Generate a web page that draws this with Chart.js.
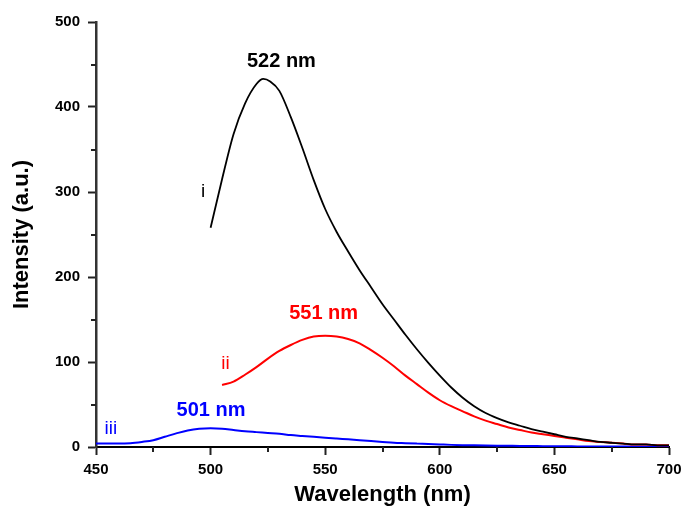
<!DOCTYPE html>
<html>
<head>
<meta charset="utf-8">
<script src="https://cdn.jsdelivr.net/npm/chart.js@4"></script>
<style>
  html, body { margin: 0; padding: 0; background: #fff; }
  #wrap { width: 684px; height: 508px; }
</style>
</head>
<body>
<div id="wrap"><canvas id="chart" width="684" height="508"></canvas></div>
<script>
// Daten
const wavelengthsI = [500, 505, 510, 515, 520, 523, 526, 530, 535, 540, 545, 550, 555, 560, 565, 570, 575, 580, 585, 590, 595, 600, 605, 610, 615, 620, 625, 630, 635, 640, 645, 650, 655, 660, 665, 670, 675, 680, 685, 690, 695, 700];
const intensityI = [258, 315, 368, 404, 427, 433, 430, 419, 388, 352, 314, 280, 253, 230, 208, 188, 168, 150, 132, 115, 99, 84, 70, 58, 48, 40, 34, 29, 25, 21, 18, 15, 12, 10, 8, 6, 5, 4, 3, 3, 2, 2];

const wavelengthsII = [505, 510, 515, 520, 525, 530, 535, 540, 545, 550, 555, 560, 565, 570, 575, 580, 585, 590, 595, 600, 605, 610, 615, 620, 625, 630, 635, 640, 645, 650, 655, 660, 665, 670, 675, 680, 685, 690, 695, 700];
const intensityII = [73, 77, 85, 94, 104, 113, 120, 126, 130, 131, 130, 127, 122, 114, 105, 95, 84, 74, 64, 55, 48, 42, 36, 31, 27, 23, 20, 17, 15, 13, 11, 9, 7, 6, 5, 4, 3, 3, 2, 2];

const wavelengthsIII = [450, 455, 460, 465, 470, 475, 480, 485, 490, 495, 500, 505, 510, 515, 520, 525, 530, 535, 540, 545, 550, 555, 560, 565, 570, 575, 580, 585, 590, 595, 600, 605, 610, 615, 620, 625, 630, 635, 640, 645, 650, 655, 660, 665, 670, 675, 680, 685, 690, 695, 700];
const intensityIII = [4, 4, 4, 4.5, 6, 8, 12, 16, 19.5, 21.5, 22, 21.5, 20, 18.5, 17.5, 16.5, 15.5, 14, 13, 12, 11, 10, 9, 8, 7, 6, 5, 4.5, 4, 3.5, 3, 2.5, 2.2, 2, 1.8, 1.6, 1.4, 1.2, 1.1, 1, 0.9, 0.8, 0.7, 0.6, 0.6, 0.5, 0.5, 0.5, 0.5, 0.5, 0.5];

const xMajorTicks = [450, 500, 550, 600, 650, 700];
const xMinorTicks = [475, 525, 575, 625, 675];
const yMajorTicks = [0, 100, 200, 300, 400, 500];
const yMinorTicks = [50, 150, 250, 350, 450];

// Beschriftungen im Diagramm
const peakLabels = [
  { text: '522 nm', x: 530.9, y: 447, color: '#000', font: 'bold 20px "Liberation Sans", Arial, sans-serif' },
  { text: '551 nm', x: 549.3, y: 150.6, color: '#ff0000', font: 'bold 20px "Liberation Sans", Arial, sans-serif' },
  { text: '501 nm', x: 500.2, y: 36.5, color: '#0000ff', font: 'bold 20px "Liberation Sans", Arial, sans-serif' },
  { text: 'i', x: 496.7, y: 294, color: '#000', font: '19px "Liberation Sans", Arial, sans-serif' },
  { text: 'ii', x: 506.5, y: 91.8, color: '#ff0000', font: '19px "Liberation Sans", Arial, sans-serif' },
  { text: 'iii', x: 456.5, y: 15.3, color: '#0000ff', font: '19px "Liberation Sans", Arial, sans-serif' }
];

function toPoints(xs, ys) {
  return xs.map((x, i) => ({ x: x, y: ys[i] }));
}

// Nebenstriche und Text zeichnen
const extrasPlugin = {
  id: 'extras',
  afterDraw(chart) {
    const ctx = chart.ctx;
    const xs = chart.scales.x;
    const ys = chart.scales.y;
    const area = chart.chartArea;
    ctx.save();
    ctx.strokeStyle = '#222';
    ctx.lineWidth = 2;
    xMinorTicks.forEach(v => {
      const px = Math.round(xs.getPixelForValue(v));
      ctx.beginPath();
      ctx.moveTo(px, area.bottom);
      ctx.lineTo(px, area.bottom + 5);
      ctx.stroke();
    });
    yMinorTicks.forEach(v => {
      const py = Math.round(ys.getPixelForValue(v));
      ctx.beginPath();
      ctx.moveTo(area.left, py);
      ctx.lineTo(area.left - 5, py);
      ctx.stroke();
    });
    ctx.textAlign = 'center';
    ctx.textBaseline = 'alphabetic';
    peakLabels.forEach(l => {
      ctx.font = l.font;
      ctx.fillStyle = l.color;
      ctx.fillText(l.text, xs.getPixelForValue(l.x), ys.getPixelForValue(l.y));
    });
    ctx.restore();
  }
};

const tickFont = { family: '"Liberation Sans", Arial, sans-serif', size: 15, weight: 'bold' };
const titleFont = { family: '"Liberation Sans", Arial, sans-serif', size: 22, weight: 'bold' };

new Chart(document.getElementById('chart'), {
  type: 'line',
  data: {
    datasets: [
      { label: 'i', data: toPoints(wavelengthsI, intensityI), borderColor: '#000', borderWidth: 1.8, pointRadius: 0, cubicInterpolationMode: 'monotone', fill: false },
      { label: 'ii', data: toPoints(wavelengthsII, intensityII), borderColor: '#ff0000', borderWidth: 2, pointRadius: 0, cubicInterpolationMode: 'monotone', fill: false },
      { label: 'iii', data: toPoints(wavelengthsIII, intensityIII), borderColor: '#0000ff', borderWidth: 2, pointRadius: 0, cubicInterpolationMode: 'monotone', fill: false }
    ]
  },
  options: {
    responsive: false,
    animation: false,
    layout: { padding: { left: 0, top: 22, right: 15, bottom: 0 } },
    plugins: { legend: { display: false }, tooltip: { enabled: false } },
    scales: {
      x: {
        type: 'linear',
        min: 450,
        max: 700,
        afterBuildTicks: scale => { scale.ticks = xMajorTicks.map(v => ({ value: v })); },
        afterFit: scale => {
          scale.height = 61;
          scale.paddingRight = 10;
          scale.paddingLeft = 10;
        },
        ticks: { color: '#000', font: tickFont, padding: 6, maxRotation: 0 },
        grid: { drawOnChartArea: false, tickLength: 8, tickWidth: 2, tickColor: '#222' },
        border: { color: '#000', width: 2 },
        title: { display: true, text: 'Wavelength (nm)', color: '#000', font: titleFont, padding: { top: 0, bottom: 0 } }
      },
      y: {
        min: 0,
        max: 500,
        afterBuildTicks: scale => { scale.ticks = yMajorTicks.map(v => ({ value: v })); },
        afterFit: scale => { scale.width = 96; },
        ticks: { color: '#000', font: tickFont, padding: 8 },
        grid: { drawOnChartArea: false, tickLength: 8, tickWidth: 2, tickColor: '#222' },
        border: { color: '#333', width: 2.5 },
        title: { display: true, text: 'Intensity (a.u.)', color: '#000', font: titleFont, padding: { top: 9, bottom: 0 } }
      }
    }
  },
  plugins: [extrasPlugin]
});
</script>
</body>
</html>
